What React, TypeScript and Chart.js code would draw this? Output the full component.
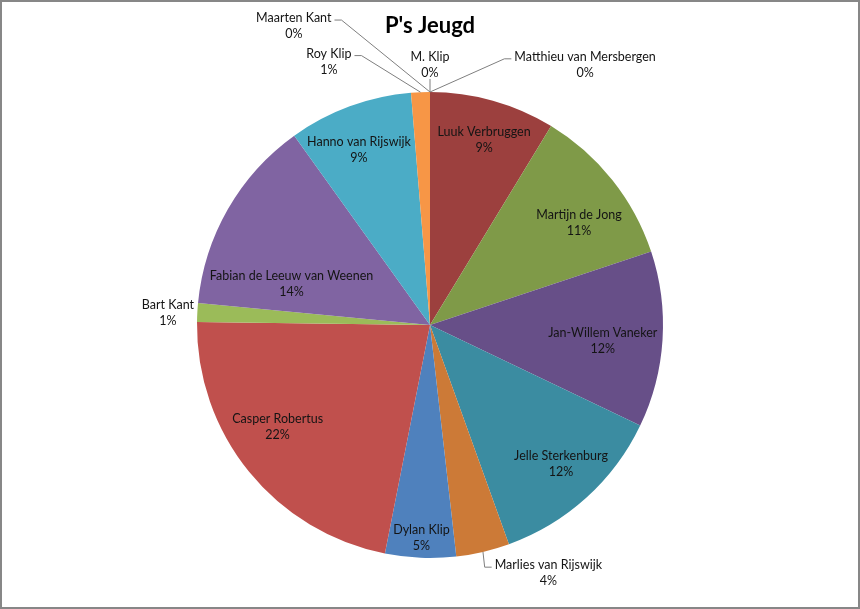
import { useEffect, useRef } from "react"
import { Chart, registerables } from "chart.js"

Chart.register(...registerables)

// Pie values, clockwise from 12 o'clock
const chartTitle = "P's Jeugd"
const players = [
  "Matthieu van Mersbergen",
  "Luuk Verbruggen",
  "Martijn de Jong",
  "Jan-Willem Vaneker",
  "Jelle Sterkenburg",
  "Marlies van Rijswijk",
  "Dylan Klip",
  "Casper Robertus",
  "Bart Kant",
  "Fabian de Leeuw van Weenen",
  "Hanno van Rijswijk",
  "Roy Klip",
  "Maarten Kant",
  "M. Klip",
]
const shares = [0, 8.7, 11.2, 12.2, 12.4, 3.7, 4.9, 22.1, 1.3, 13.6, 8.6, 1.3, 0, 0]
const sliceColors = [
  "#2C4D75",
  "#9C403E",
  "#7F9A48",
  "#674F88",
  "#3B8CA1",
  "#CC7A37",
  "#4F81BD",
  "#C0504D",
  "#9BBB59",
  "#8064A2",
  "#4BACC6",
  "#F79646",
  "#2C4D75",
  "#772C2A",
]

// label placement: angle (deg, clockwise from top) and fraction of radius
const labelSpots = [
  { a: 30.8, f: 1.3, leader: true },
  { a: 16.3, f: 0.827 },
  { a: 55.6, f: 0.775 },
  { a: 95.3, f: 0.745 },
  { a: 136.7, f: 0.82 },
  { a: 154.5, f: 1.18, leader: true },
  { a: 182.3, f: 0.915 },
  { a: 236.2, f: 0.787 },
  { a: 272.7, f: 1.126 },
  { a: 286.6, f: 0.62 },
  { a: 337.9, f: 0.81 },
  { a: 339.0, f: 1.211, leader: true },
  { a: 335.5, f: 1.41, leader: true },
  { a: 0, f: 1.116, leader: true },
]

const total = shares.reduce((s, v) => s + v, 0)

const pieLabels = {
  id: "pieLabels",
  afterDatasetsDraw(chart: any) {
    const ctx = chart.ctx
    const meta = chart.getDatasetMeta(0)
    ctx.save()
    ctx.font = "12.5px Lato"
    ctx.textAlign = "center"
    ctx.textBaseline = "middle"
    meta.data.forEach((arc: any, i: number) => {
      const { x, y, startAngle, endAngle, outerRadius } = arc.getProps(
        ["x", "y", "startAngle", "endAngle", "outerRadius"],
        true
      )
      const spot = labelSpots[i]
      const mid = (startAngle + endAngle) / 2
      const ang = ((spot.a - 90) * Math.PI) / 180
      const lx = x + Math.cos(ang) * outerRadius * spot.f
      const ly = y + Math.sin(ang) * outerRadius * spot.f
      const name = players[i]
      const pct = Math.round((shares[i] / total) * 100) + "%"

      if (spot.leader) {
        const ex = x + Math.cos(mid) * outerRadius
        const ey = y + Math.sin(mid) * outerRadius
        const w = ctx.measureText(name).width
        ctx.strokeStyle = "#7f7f7f"
        ctx.lineWidth = 1
        ctx.beginPath()
        if (Math.abs(lx - ex) < w / 2) {
          ctx.moveTo(lx, ly + 14)
          ctx.lineTo(ex, ey)
        } else {
          const side = lx < ex ? 1 : -1
          const sx = lx + side * (w / 2 + 3)
          const sy = ly - 6
          ctx.moveTo(sx, sy)
          ctx.lineTo(sx + side * 7, sy)
          ctx.lineTo(ex, ey)
        }
        ctx.stroke()
      }

      ctx.fillStyle = "#141414"
      ctx.fillText(name, lx, ly - 8)
      ctx.fillText(pct, lx, ly + 8)
    })
    ctx.restore()
  },
  afterDraw(chart: any) {
    const ctx = chart.ctx
    ctx.save()
    ctx.strokeStyle = "#878787"
    ctx.lineWidth = 2
    ctx.strokeRect(1, 1, chart.width - 2, chart.height - 2)
    ctx.restore()
  },
}

export default function App() {
  const chartRef = useRef<HTMLCanvasElement>(null)
  const chartInstance = useRef<Chart | null>(null)

  useEffect(() => {
    document.body.style.margin = "0"
    if (!chartRef.current) return
    const ctx = chartRef.current.getContext("2d")
    if (!ctx) return

    chartInstance.current = new Chart(ctx, {
      type: "pie",
      data: {
        labels: players,
        datasets: [
          {
            data: shares,
            backgroundColor: sliceColors,
            borderWidth: 0,
            hoverOffset: 0,
          },
        ],
      },
      options: {
        responsive: true,
        maintainAspectRatio: false,
        animation: false,
        events: [],
        layout: { padding: { top: 0, bottom: 51, left: 0, right: 0 } },
        plugins: {
          legend: { display: false },
          tooltip: { enabled: false },
          title: {
            display: true,
            text: chartTitle,
            color: "#000",
            font: { family: "Lato", size: 22, weight: "bold", lineHeight: 1.2 },
            padding: { top: 13, bottom: 52.6 },
          },
        },
      },
      plugins: [pieLabels],
    })

    return () => {
      if (chartInstance.current) {
        chartInstance.current.destroy()
      }
    }
  }, [])

  return (
    <div style={{ width: 860, height: 609, position: "relative", background: "#fff" }}>
      <canvas ref={chartRef}></canvas>
    </div>
  )
}
